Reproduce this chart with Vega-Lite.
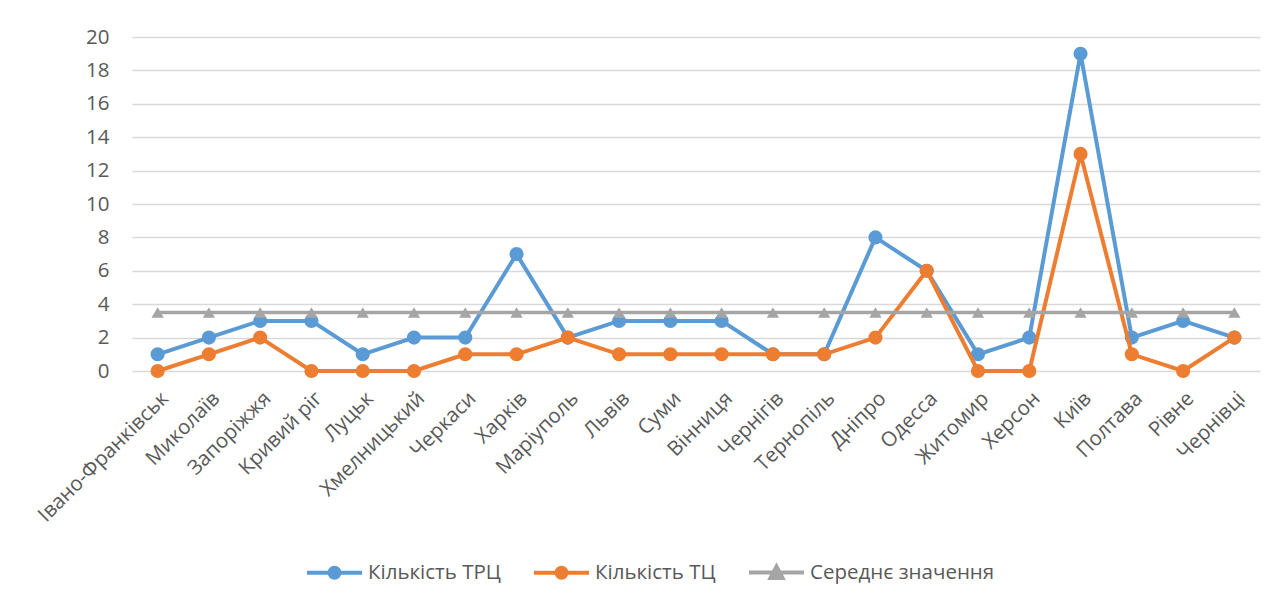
{
  "$schema": "https://vega.github.io/schema/vega-lite/v6.json",
  "width": 1128,
  "height": 334,
  "autosize": "none",
  "padding": {"left": 132, "top": 37, "right": 27, "bottom": 233},
  "background": "white",
  "config": {
    "view": {"stroke": null},
    "font": "Open Sans",
    "axis": {"labelFont": "Open Sans", "labelColor": "#595959", "labelFontSize": 20.5, "ticks": false, "domain": false, "title": null, "labelOverlap": false},
    "legend": {"labelFont": "Open Sans"}
  },
  "data": {
    "values": [
      {"city": "Івано-Франківськ", "trc": 1, "tc": 0, "avg": 3.5},
      {"city": "Миколаїв", "trc": 2, "tc": 1, "avg": 3.5},
      {"city": "Запоріжжя", "trc": 3, "tc": 2, "avg": 3.5},
      {"city": "Кривий ріг", "trc": 3, "tc": 0, "avg": 3.5},
      {"city": "Луцьк", "trc": 1, "tc": 0, "avg": 3.5},
      {"city": "Хмелницький", "trc": 2, "tc": 0, "avg": 3.5},
      {"city": "Черкаси", "trc": 2, "tc": 1, "avg": 3.5},
      {"city": "Харків", "trc": 7, "tc": 1, "avg": 3.5},
      {"city": "Маріуполь", "trc": 2, "tc": 2, "avg": 3.5},
      {"city": "Львів", "trc": 3, "tc": 1, "avg": 3.5},
      {"city": "Суми", "trc": 3, "tc": 1, "avg": 3.5},
      {"city": "Вінниця", "trc": 3, "tc": 1, "avg": 3.5},
      {"city": "Чернігів", "trc": 1, "tc": 1, "avg": 3.5},
      {"city": "Тернопіль", "trc": 1, "tc": 1, "avg": 3.5},
      {"city": "Дніпро", "trc": 8, "tc": 2, "avg": 3.5},
      {"city": "Одесса", "trc": 6, "tc": 6, "avg": 3.5},
      {"city": "Житомир", "trc": 1, "tc": 0, "avg": 3.5},
      {"city": "Херсон", "trc": 2, "tc": 0, "avg": 3.5},
      {"city": "Київ", "trc": 19, "tc": 13, "avg": 3.5},
      {"city": "Полтава", "trc": 2, "tc": 1, "avg": 3.5},
      {"city": "Рівне", "trc": 3, "tc": 0, "avg": 3.5},
      {"city": "Чернівці", "trc": 2, "tc": 2, "avg": 3.5}
    ]
  },
  "encoding": {
    "x": {
      "field": "city", "type": "nominal", "sort": null,
      "scale": {"type": "point", "padding": 0.5},
      "axis": {"labelAngle": -45, "labelPadding": 17, "grid": false, "labelFontSize": 20.5}
    }
  },
  "layer": [
    {
      "mark": {"type": "line", "strokeWidth": 4, "point": {"filled": true, "size": 200}},
      "encoding": {
        "y": {"field": "trc", "type": "quantitative",
          "scale": {"domain": [0, 20]},
          "axis": {"values": [0, 2, 4, 6, 8, 10, 12, 14, 16, 18, 20], "labelOverlap": false, "labelFontSize": 20.5, "labelPadding": 23, "grid": true, "gridColor": "#D9D9D9", "gridWidth": 1.3}},
        "color": {"datum": "Кількість ТРЦ", "type": "nominal",
          "scale": {"domain": ["Кількість ТРЦ", "Кількість ТЦ", "Середнє значення"], "range": ["#5B9BD5", "#ED7D31", "#A5A5A5"]},
          "legend": {
            "orient": "none", "legendX": 173, "legendY": 506, "direction": "horizontal", "title": null,
            "symbolSize": 3025, "labelFontSize": 20.5, "labelLimit": 400, "labelColor": "#595959", "columnPadding": 25, "labelOffset": 4,
            "encode": {"symbols": {"update": {
              "shape": {"signal": "datum.value === 'Середнє значення' ? 'M-1,0H1M-0.22,0.2L0,-0.22L0.22,0.2Z' : 'M-1,0H1M0.18,0A0.18,0.18 0 1 1 -0.18,0A0.18,0.18 0 1 1 0.18,0Z'"},
              "fill": {"scale": "color", "field": "value"},
              "stroke": {"scale": "color", "field": "value"},
              "strokeWidth": {"value": 4},
              "opacity": {"value": 1},
              "fillOpacity": {"value": 1}
            }}}
          }}
      }
    },
    {
      "mark": {"type": "line", "strokeWidth": 4, "point": {"filled": true, "size": 200}},
      "encoding": {
        "y": {"field": "tc", "type": "quantitative",
          "axis": {"values": [0, 2, 4, 6, 8, 10, 12, 14, 16, 18, 20], "labelOverlap": false, "labelFontSize": 20.5, "labelPadding": 23, "grid": true, "gridColor": "#D9D9D9", "gridWidth": 1.3}},
        "color": {"datum": "Кількість ТЦ", "type": "nominal"}
      }
    },
    {
      "mark": {"type": "line", "strokeWidth": 3.5, "point": {"filled": true, "size": 150, "shape": "triangle-up"}},
      "encoding": {
        "y": {"field": "avg", "type": "quantitative",
          "axis": {"values": [0, 2, 4, 6, 8, 10, 12, 14, 16, 18, 20], "labelOverlap": false, "labelFontSize": 20.5, "labelPadding": 23, "grid": true, "gridColor": "#D9D9D9", "gridWidth": 1.3}},
        "color": {"datum": "Середнє значення", "type": "nominal"}
      }
    }
  ]
}
